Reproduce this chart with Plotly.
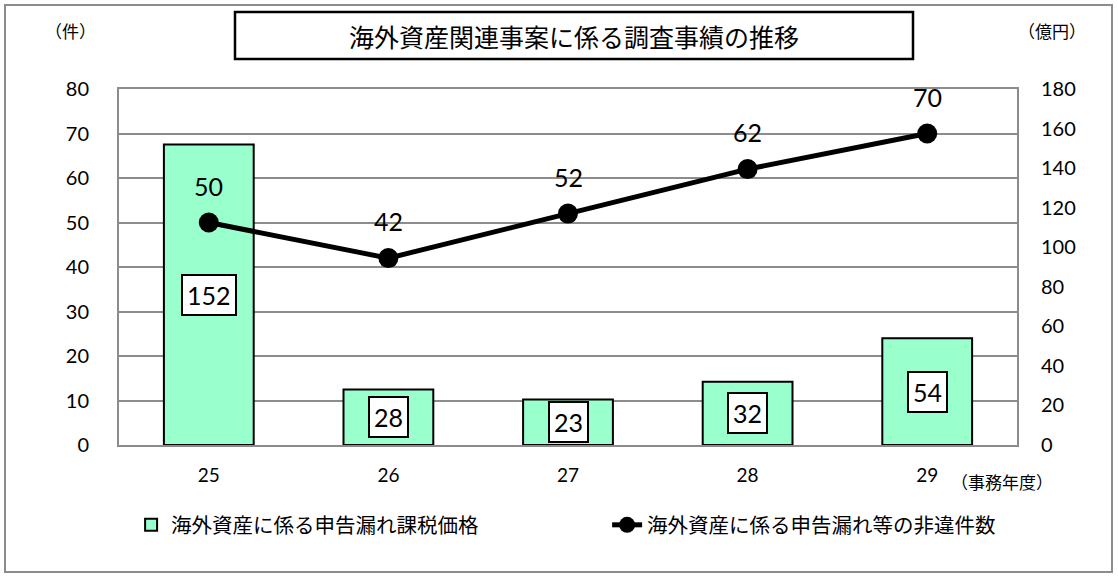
import plotly.graph_objects as go

years = ["25", "26", "27", "28", "29"]
amount_oku = [152, 28, 23, 32, 54]        # 億円 (bars, right axis)
cases = [50, 42, 52, 62, 70]              # 件 (line, left axis)

bar_name = "海外資産に係る申告漏れ課税価格"
line_name = "海外資産に係る申告漏れ等の非違件数"
title_text = "海外資産関連事案に係る調査事績の推移"

FONT = "Lato, 'Noto Sans CJK JP', sans-serif"
JFONT = "'Noto Sans CJK JP', sans-serif"

# plot area pixel geometry
L, R, T, B = 119, 1017, 89, 445
W, H = R - L, B - T
def px(x): return (x - L) / W
def py(y): return (B - y) / H

fig = go.Figure()
fig.add_trace(go.Bar(
    x=years, y=amount_oku, name=bar_name, yaxis="y",
    marker=dict(color="#99FFCC", line=dict(color="black", width=2)),
    width=0.5,
))
fig.add_trace(go.Scatter(
    x=years, y=cases, name=line_name, yaxis="y2", mode="lines+markers",
    line=dict(color="black", width=5),
    marker=dict(color="black", size=20),
))

annotations = []
for i, v in enumerate(amount_oku):
    annotations.append(dict(
        x=i, y=v / 2, xref="x", yref="y", text=str(v), showarrow=False,
        xanchor="center", yanchor="middle",
        font=dict(family=FONT, size=25, color="black"),
        bgcolor="white", bordercolor="black", borderwidth=2, borderpad=4,
    ))
for i, v in enumerate(cases):
    annotations.append(dict(
        x=i, y=v, xref="x", yref="y2", text=str(v), showarrow=False,
        xanchor="center", yanchor="middle",
        yshift=37, font=dict(family=FONT, size=25, color="black"),
    ))
def note(x, y, text, size):
    return dict(x=px(x), y=py(y), xref="paper", yref="paper", text=text,
                showarrow=False, xanchor="center", yanchor="middle",
                font=dict(family=JFONT, size=size, color="black"))
annotations += [
    note(574, 36, title_text, 25),
    note(70, 30, "（件）", 17),
    note(1052, 30, "（億円）", 17),
    note(1002, 481, "（事務年度）", 17),
]

shapes = [
    dict(type="rect", xref="paper", yref="paper",
         x0=px(5), x1=px(1112), y0=py(572), y1=py(5),
         line=dict(color="#8c8c8c", width=2), layer="below"),
    dict(type="rect", xref="paper", yref="paper",
         x0=px(235), x1=px(913), y0=py(59), y1=py(12),
         line=dict(color="black", width=2.5)),
]

fig.update_layout(
    width=1118, height=576,
    margin=dict(l=L, r=1118 - R, t=T, b=576 - B),
    paper_bgcolor="white", plot_bgcolor="white",
    font=dict(family=FONT, size=19, color="black"),
    showlegend=True,
    legend=dict(orientation="h", x=-0.001, y=py(525), xanchor="left",
                yanchor="middle", entrywidth=418, entrywidthmode="pixels",
                indentation=13,
                font=dict(family=JFONT, size=20.5, color="black"),
                bgcolor="rgba(0,0,0,0)"),
    xaxis=dict(type="category", range=[-0.5, 4.5], showgrid=False,
               showline=True, mirror=True,
               linecolor="#8c8c8c", linewidth=2, ticks="",
               tickfont=dict(family=FONT, size=19), ticklabelstandoff=12),
    yaxis=dict(side="right", range=[0, 180], dtick=20, showgrid=False,
               showline=True, mirror=True,
               linecolor="#8c8c8c", linewidth=2, ticks="", zeroline=False,
               tickfont=dict(family=FONT, size=20), ticklabelstandoff=18),
    yaxis2=dict(side="left", overlaying="y", range=[0, 80], dtick=10,
                showgrid=True, gridcolor="#8c8c8c", gridwidth=2,
                showline=False, ticks="", zeroline=False,
                tickfont=dict(family=FONT, size=20), ticklabelstandoff=29),
    annotations=annotations,
    shapes=shapes,
)

fig.write_html("out.html")
